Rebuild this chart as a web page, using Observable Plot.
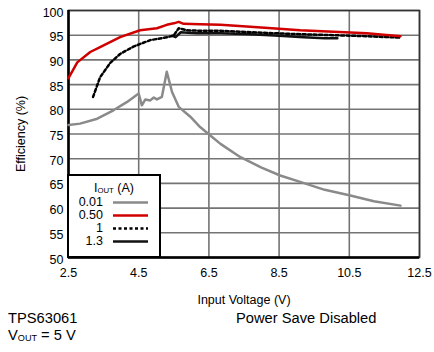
<!DOCTYPE html>
<html><head><meta charset="utf-8">
<script src="https://cdn.jsdelivr.net/npm/d3@7"></script>
<script src="https://cdn.jsdelivr.net/npm/@observablehq/plot@0.6"></script>
<style>
html,body{margin:0;padding:0;background:#fff;}
#wrap{position:relative;width:434px;height:352px;font-family:"Liberation Sans",Arial,sans-serif;color:#000;overflow:hidden;background:#fff}
.t{position:absolute;white-space:nowrap;line-height:1}
#legend{position:absolute;left:67px;top:174px;width:94px;height:84px;box-sizing:border-box;border:2px solid #000;background:#fff}
sub{font-size:0.62em;vertical-align:baseline;position:relative;top:0.15em}
</style></head><body><div id="wrap"></div>
<script>
// Input voltage (V) and efficiency (%) per output current
const vGray = [2.5, 2.83, 3.32, 3.78, 4.17, 4.5, 4.59, 4.69, 4.83, 4.93, 5.02, 5.16, 5.3, 5.45, 5.64, 5.97, 6.25, 6.54, 6.83, 7.4, 8.0, 8.53, 9.1, 9.8, 10.5, 11.2, 11.96];
const eGray = [76.8, 77.1, 78.1, 79.8, 81.5, 83.2, 80.8, 82.0, 81.8, 82.4, 82.0, 82.5, 87.6, 83.5, 80.5, 78.5, 76.4, 74.7, 73.0, 70.3, 68.2, 66.6, 65.3, 63.7, 62.6, 61.4, 60.5];
const vRed = [2.5, 2.75, 3.12, 3.4, 3.97, 4.54, 5.02, 5.3, 5.5, 5.64, 5.78, 6.25, 6.83, 7.68, 8.5, 9.1, 10.05, 11.0, 11.96];
const eRed = [86.3, 89.5, 91.6, 92.6, 94.6, 96.0, 96.4, 97.1, 97.4, 97.7, 97.3, 97.2, 97.1, 96.7, 96.3, 96.0, 95.7, 95.4, 94.8];
const vDot = [3.2, 3.4, 3.69, 3.97, 4.35, 4.83, 5.31, 5.49, 5.64, 5.88, 6.25, 6.83, 8.0, 9.1, 10.05, 11.0, 11.96];
const eDot = [82.5, 86.5, 89.4, 91.2, 92.7, 94.0, 94.6, 94.9, 96.4, 96.0, 95.9, 95.9, 95.5, 95.2, 95.0, 94.8, 94.5];
const vBlk = [5.45, 5.55, 5.7, 5.9, 6.16, 6.83, 7.68, 8.5, 9.2, 9.8, 10.16];
const eBlk = [94.9, 94.6, 95.6, 95.5, 95.4, 95.4, 95.2, 94.9, 94.6, 94.4, 94.4];
const seriesLabels = ["0.01", "0.50", "1", "1.3"];
const xTicks = [2.5, 4.5, 6.5, 8.5, 10.5, 12.5];
const yTicks = [50, 55, 60, 65, 70, 75, 80, 85, 90, 95, 100];

const toRows = (vs, es) => vs.map((v, i) => ({v, e: es[i]}));
const gray = toRows(vGray, eGray), red = toRows(vRed, eRed), dot = toRows(vDot, eDot), blk = toRows(vBlk, eBlk);

const font = '"Liberation Sans", Arial, sans-serif';
const chart = Plot.plot({
  width: 434, height: 352,
  marginLeft: 68, marginRight: 15, marginTop: 10, marginBottom: 95,
  style: {fontFamily: font, fontSize: "12.5px", background: "white", color: "#000"},
  x: {domain: [2.5, 12.5]},
  y: {domain: [50, 100]},
  marks: [
    Plot.gridX(xTicks, {stroke: "#747474", strokeOpacity: 1, strokeWidth: 1.6}),
    Plot.gridY(yTicks, {stroke: "#747474", strokeOpacity: 1, strokeWidth: 1.6}),
    Plot.frame({stroke: "#333", strokeWidth: 1.6}),
    Plot.ruleX([2.5], {stroke: "#000", strokeWidth: 2.5}),
    Plot.ruleY([50], {stroke: "#000", strokeWidth: 2.5}),
    Plot.axisX(xTicks, {tickSize: 0, tickPadding: 11, tickFormat: d3.format(".1f"), label: "Input Voltage (V)", labelAnchor: "center", labelArrow: "none", labelOffset: 46, fontSize: 12.5}),
    Plot.axisY(yTicks, {tickSize: 0, tickPadding: 5, dy: 2, label: "Efficiency (%)", labelAnchor: "center", labelArrow: "none", labelOffset: 52, fontSize: 12.5}),
    Plot.line(gray, {x: "v", y: "e", stroke: "#8a8a8a", strokeWidth: 2.5, strokeLinejoin: "round"}),
    Plot.line(blk, {x: "v", y: "e", stroke: "#111", strokeWidth: 2.5, strokeLinejoin: "round"}),
    Plot.line(dot, {x: "v", y: "e", stroke: "#000", strokeWidth: 2.5, strokeDasharray: "3,2.5"}),
    Plot.line(red, {x: "v", y: "e", stroke: "#d00000", strokeWidth: 2.5, strokeLinejoin: "round"})
  ]
});
const wrap = document.getElementById("wrap");
wrap.appendChild(chart);

// legend
const styles = [
  {stroke: "#8a8a8a", dash: null},
  {stroke: "#d00000", dash: null},
  {stroke: "#000", dash: "3,2.5"},
  {stroke: "#111", dash: null}
];
const lg = document.createElement("div");
lg.id = "legend";
let html = '<div class="t" style="left:0;width:90px;text-align:center;top:6px;font-size:12.5px">I<sub>OUT</sub> (A)</div>';
const rowsY = [26, 39, 52, 65];
let svg = '<svg width="90" height="80" style="position:absolute;left:0;top:0">';
seriesLabels.forEach((s, i) => {
  html += `<div class="t" style="right:56px;top:${rowsY[i] - 6}px;font-size:12.5px;text-align:right">${s}</div>`;
  svg += `<line x1="44" x2="79" y1="${rowsY[i] + 0.5}" y2="${rowsY[i] + 0.5}" stroke="${styles[i].stroke}" stroke-width="2.5" ${styles[i].dash ? `stroke-dasharray="${styles[i].dash}"` : ""}/>`;
});
svg += '</svg>';
lg.innerHTML = svg + html;
wrap.appendChild(lg);

// footer
const foot = [
  {html: "TPS63061", left: 8, top: 311},
  {html: "Power Save Disabled", left: 236, top: 311},
  {html: "V<sub>OUT</sub> = 5 V", left: 8, top: 328}
];
foot.forEach(f => {
  const d = document.createElement("div");
  d.className = "t";
  d.style.left = f.left + "px"; d.style.top = f.top + "px"; d.style.fontSize = "14.7px";
  d.innerHTML = f.html;
  wrap.appendChild(d);
});
</script></body></html>
